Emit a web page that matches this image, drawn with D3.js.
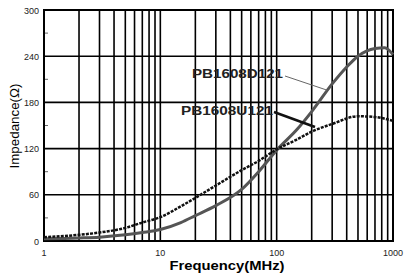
<!DOCTYPE html>
<html><head><meta charset="utf-8">
<script src="https://cdn.jsdelivr.net/npm/d3@7"></script>
<style>body{margin:0;background:#fff}svg{display:block}</style>
</head><body>
<svg id="c" width="404" height="278"></svg>
<script>
const yTicks = [0, 60, 120, 180, 240, 300];
const yMinor = [30, 90, 150, 210, 270];
const xTicks = [1, 10, 100, 1000];
const freqD = [1, 2, 3, 5, 7, 10, 15, 20, 30, 50, 70, 100, 150, 200, 300, 400, 500, 700, 850, 1000];
const valD  = [3, 4, 5, 8, 11, 15, 24, 33, 46, 67, 90, 118, 145, 168, 204, 226, 240, 250, 251, 242];
const freqU = [1, 2, 3, 5, 7, 10, 15, 20, 30, 50, 70, 100, 150, 200, 300, 500, 700, 1000];
const valU  = [5, 8, 11, 17, 24, 31, 45, 56, 72, 92, 104, 119, 132, 142, 152, 162, 161, 156];
const labelD = "PB1608D121";
const labelU = "PB1608U121";
const xTitle = "Frequency(MHz)";
const yTitle = "Impedance(Ω)";

const svg = d3.select("#c");
const L = 44, R = 393, T = 10, B = 241;
const x = d3.scaleLog().domain([1, 1000]).range([L, R]);
const y = d3.scaleLinear().domain([0, 300]).range([B, T]);

// vertical grid
const vg = [];
for (let d = 1; d < 1000; d *= 10) for (let k = 2; k <= 9; k++) vg.push(d * k);
vg.push(10, 100);
svg.append("g").selectAll("line").data(vg).join("line")
  .attr("x1", d => x(d)).attr("x2", d => x(d)).attr("y1", T).attr("y2", B)
  .attr("stroke", "#000").attr("stroke-width", 1.6);
svg.append("g").selectAll("line").data(yTicks.slice(1, -1)).join("line")
  .attr("x1", L).attr("x2", R).attr("y1", d => y(d)).attr("y2", d => y(d))
  .attr("stroke", "#000").attr("stroke-width", 1.6);
svg.append("g").selectAll("line").data(yMinor).join("line")
  .attr("x1", L).attr("x2", L + 4).attr("y1", d => y(d)).attr("y2", d => y(d))
  .attr("stroke", "#666").attr("stroke-width", 1);

svg.append("rect").attr("x", L).attr("y", T).attr("width", R - L).attr("height", B - T)
  .attr("fill", "none").attr("stroke", "#000").attr("stroke-width", 2);

// tick labels
svg.append("g").selectAll("text").data(yTicks).join("text")
  .attr("x", L - 5).attr("y", d => y(d) + 3.5).attr("text-anchor", "end")
  .attr("font-family", "Liberation Sans, Arial, sans-serif").attr("font-size", 9)
  .attr("fill", "#222").text(d => d);
svg.append("g").selectAll("text").data(xTicks).join("text")
  .attr("x", d => x(d)).attr("y", 256).attr("text-anchor", "middle")
  .attr("font-family", "Liberation Sans, Arial, sans-serif").attr("font-size", 9)
  .attr("fill", "#222").text(d => d);

// titles
svg.append("text").attr("x", 227).attr("y", 270).attr("text-anchor", "middle")
  .attr("font-family", "Liberation Sans, Arial, sans-serif").attr("font-size", 12.5)
  .attr("font-weight", "bold").attr("textLength", 115).attr("lengthAdjust", "spacingAndGlyphs")
  .text(xTitle);
svg.append("text").attr("transform", "translate(19,126) rotate(-90)").attr("text-anchor", "middle")
  .attr("font-family", "Liberation Sans, Arial, sans-serif").attr("font-size", 12)
  .attr("textLength", 85).attr("lengthAdjust", "spacingAndGlyphs")
  .text(yTitle);

// curves
const line = d3.line().x(d => x(d[0])).y(d => y(d[1])).curve(d3.curveMonotoneX);
svg.append("path").attr("d", line(freqD.map((f, i) => [f, valD[i]])))
  .attr("fill", "none").attr("stroke", "#555").attr("stroke-width", 3);
svg.append("path").attr("d", line(freqU.map((f, i) => [f, valU[i]])))
  .attr("fill", "none").attr("stroke", "#111").attr("stroke-width", 2.5)
  .attr("stroke-dasharray", "3,1.2");

// labels with leaders
svg.append("line").attr("x1", 285).attr("y1", 76).attr("x2", x(270)).attr("y2", y(196))
  .attr("stroke", "#666").attr("stroke-width", 1);
svg.append("line").attr("x1", 274).attr("y1", 112).attr("x2", 315).attr("y2", 127)
  .attr("stroke", "#111").attr("stroke-width", 2.5);
svg.append("text").attr("x", 192).attr("y", 78)
  .attr("font-family", "Liberation Sans, Arial, sans-serif").attr("font-size", 13)
  .attr("font-weight", "bold").attr("textLength", 91).attr("lengthAdjust", "spacingAndGlyphs")
  .attr("fill", "#222").text(labelD);
svg.append("text").attr("x", 181).attr("y", 115)
  .attr("font-family", "Liberation Sans, Arial, sans-serif").attr("font-size", 13)
  .attr("font-weight", "bold").attr("textLength", 92).attr("lengthAdjust", "spacingAndGlyphs")
  .attr("fill", "#222").text(labelU);
</script>
</body></html>
